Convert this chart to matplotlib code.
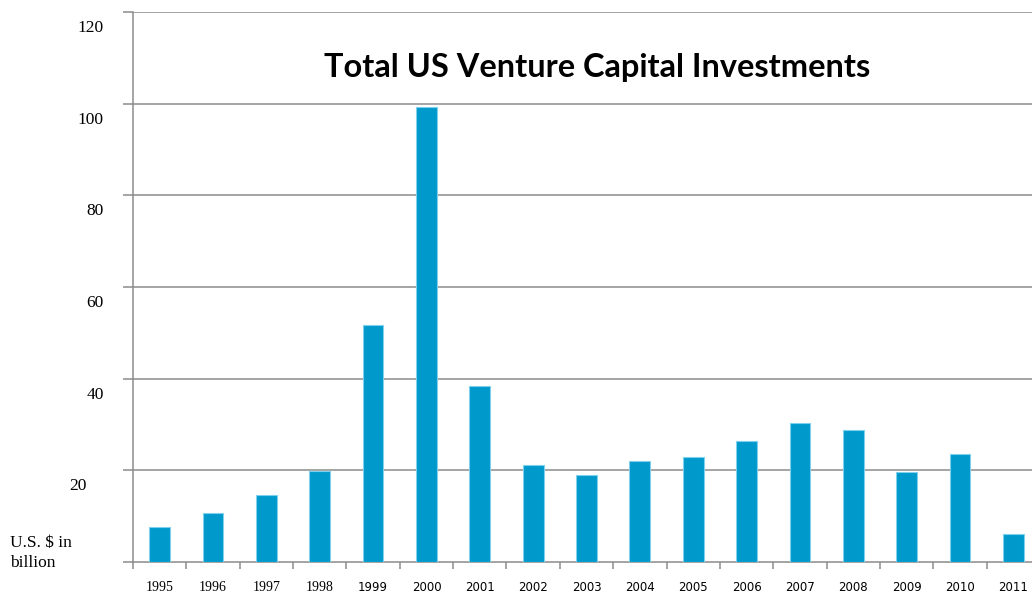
import matplotlib
matplotlib.use("Agg")
import matplotlib.pyplot as plt
import matplotlib.transforms as mtransforms
import numpy as np

years = ["1995", "1996", "1997", "1998", "1999", "2000", "2001", "2002", "2003",
         "2004", "2005", "2006", "2007", "2008", "2009", "2010", "2011"]
investments = [7.6, 10.7, 14.6, 19.9, 51.7, 99.3, 38.4, 21.2, 19.0,
               22.0, 22.9, 26.4, 30.3, 28.8, 19.6, 23.6, 6.1]
y_ticks = [20, 40, 60, 80, 100, 120]
title = "Total US Venture Capital Investments"
y_label = "U.S. $ in\nbillion"

W, H, DPI = 1032, 595, 100
fig = plt.figure(figsize=(W / DPI, H / DPI), dpi=DPI)
ax = fig.add_axes([133 / W, 1 - 562 / H, (1040 - 133) / W, (562 - 12) / H])

x = np.arange(len(years))
ax.bar(x, investments, width=0.39, color="#0099CC", edgecolor="#7FD0EC",
       linewidth=0.8, zorder=3)

ax.set_xlim(-0.5, len(years) - 0.5)
ax.set_ylim(0, 120)

# horizontal gridlines
for v in y_ticks:
    ax.axhline(v, color="#8C8C8C", linewidth=1.1, zorder=1)

for s in ["top", "right"]:
    ax.spines[s].set_visible(False)
ax.spines["left"].set_color("#8C8C8C")
ax.spines["bottom"].set_color("#8C8C8C")
ax.spines["left"].set_linewidth(1.1)
ax.spines["bottom"].set_linewidth(1.1)
ax.spines["left"].set_zorder(4)

# y ticks
ax.set_yticks([0] + y_ticks)
ax.set_yticklabels([""] + [str(v) for v in y_ticks], fontfamily="Liberation Serif",
                   fontsize=12.5)
ax.tick_params(axis="y", direction="out", length=7, width=1.1, color="#8C8C8C",
               pad=14)
for lab in ax.get_yticklabels():
    dx = 0
    if lab.get_text() == "20":
        dx = -17
    lab.set_transform(lab.get_transform() +
                      mtransforms.ScaledTranslation(dx / DPI, -14 / DPI, fig.dpi_scale_trans))

# x ticks: boundaries major, labels at centres minor
ax.set_xticks(np.arange(-0.5, len(years) - 0.4, 1.0))
ax.set_xticklabels([])
ax.tick_params(axis="x", which="major", direction="out", length=5, width=1.1,
               color="#8C8C8C")
ax.set_xticks(x, minor=True)
ax.set_xticklabels(years, minor=True, fontsize=9.5)
ax.tick_params(axis="x", which="minor", length=0, pad=14)
for i, lab in enumerate(ax.get_xticklabels(minor=True)):
    if i < 4:
        lab.set_fontfamily("Liberation Serif")
        lab.set_fontsize(10)
    else:
        lab.set_fontfamily("DejaVu Sans")
        lab.set_fontsize(8.5)

fig.text(10 / W, 1 - 553 / H, y_label, fontfamily="Liberation Serif", fontsize=12.5,
         ha="left", va="center", linespacing=1.3)

fig.text(597 / W, 1 - 68 / H, title, fontfamily="Lato", fontweight="bold",
         fontsize=23.4, ha="center", va="center")

fig.savefig("out.png", dpi=DPI)
